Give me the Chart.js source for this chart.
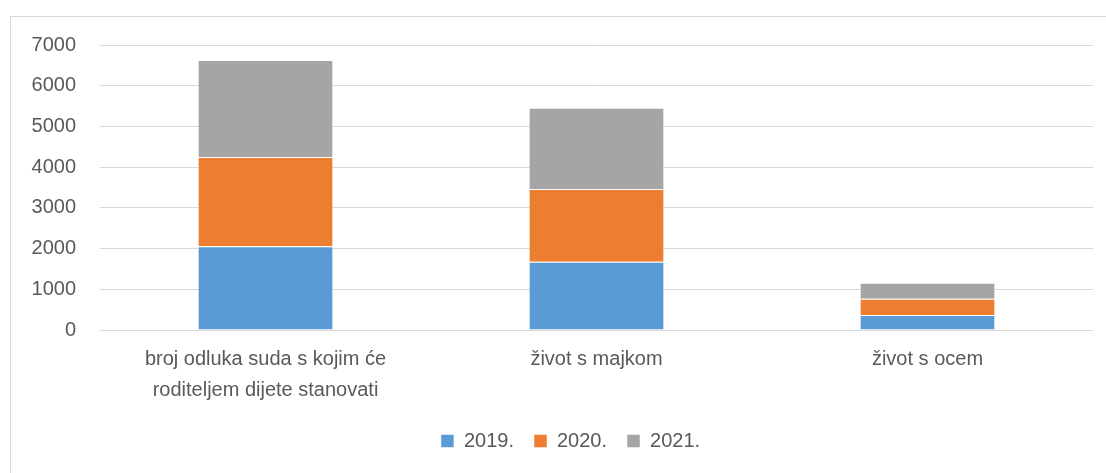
<!DOCTYPE html>
<html>
<head>
<meta charset="utf-8">
<script src="https://cdn.jsdelivr.net/npm/chart.js@4/dist/chart.umd.min.js"></script>
<style>
  html, body { margin: 0; padding: 0; background: #fff; overflow: hidden; }
  #frame {
    position: absolute; left: 10px; top: 16px; width: 1200px; height: 600px;
    border-left: 1px solid #d9d9d9; border-top: 1px solid #d9d9d9;
  }
  #wrap { position: absolute; left: 0; top: 0; width: 1106px; height: 473px; }
</style>
</head>
<body>
<div id="frame"></div>
<div id="wrap"><canvas id="chart"></canvas></div>
<script>
"use strict"

const categories = [
    ['broj odluka suda s kojim će', 'roditeljem dijete stanovati'],
    'život s majkom',
    'život s ocem'
];
const seriesNames = ['2019.', '2020.', '2021.'];
const values2019 = [2060, 1675, 370];
const values2020 = [2190, 1790, 395];
const values2021 = [2380, 1995, 395];
const yTicks = { min: 0, max: 7000, step: 1000 };

const textColor = '#595959';
const font = "'Liberation Sans', Arial, sans-serif";

// the legend in the original is centred on the whole chart frame, not the canvas
const shiftLegend = {
    id: 'shiftLegend',
    afterLayout(chart) {
        const lg = chart.legend;
        if (lg) {
            lg.left += 24;
            lg.right += 24;
        }
    }
};

const ctx = document.getElementById('chart').getContext('2d');
new Chart(ctx, {
    type: 'bar',
    data: {
        labels: categories,
        datasets: [
            { label: seriesNames[0], data: values2019, backgroundColor: '#5B9BD5' },
            { label: seriesNames[1], data: values2020, backgroundColor: '#ED7D31' },
            { label: seriesNames[2], data: values2021, backgroundColor: '#A5A5A5' }
        ]
    },
    options: {
        responsive: true,
        maintainAspectRatio: false,
        animation: false,
        datasets: {
            bar: {
                categoryPercentage: 0.41,
                barPercentage: 1,
                borderColor: 'rgba(255,255,255,0.5)',
                borderWidth: 1
            }
        },
        layout: {
            padding: { left: 0, right: 13, top: 45, bottom: 12 }
        },
        plugins: {
            tooltip: { enabled: false },
            legend: {
                position: 'bottom',
                labels: {
                    boxWidth: 13,
                    boxHeight: 13,
                    padding: 20,
                    color: textColor,
                    font: { family: font, size: 20 }
                }
            }
        },
        scales: {
            x: {
                stacked: true,
                grid: { display: false },
                border: { display: false },
                ticks: {
                    color: textColor,
                    padding: 6,
                    maxRotation: 0,
                    autoSkip: false,
                    font: { family: font, size: 20, lineHeight: 1.55 }
                },
                afterFit: scale => { scale.height = 81; }
            },
            y: {
                stacked: true,
                min: yTicks.min,
                max: yTicks.max,
                border: { display: false },
                grid: { color: '#d9d9d9', lineWidth: 1, drawTicks: false },
                ticks: {
                    stepSize: yTicks.step,
                    color: textColor,
                    padding: 24,
                    font: { family: font, size: 20 },
                    callback: value => String(value)
                },
                afterFit: scale => { scale.width = 100; }
            }
        }
    },
    plugins: [shiftLegend]
});
</script>
</body>
</html>
